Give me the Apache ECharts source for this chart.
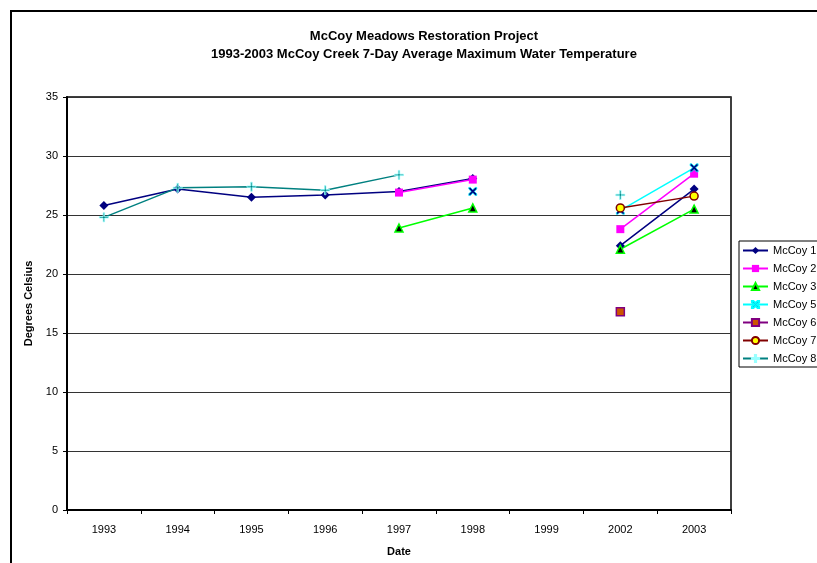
<!DOCTYPE html>
<html>
<head>
<meta charset="utf-8">
<script src="https://cdn.jsdelivr.net/npm/echarts@6/dist/echarts.min.js"></script>
<style>
  html, body { margin: 0; padding: 0; background: #fff; }
  #chart { width: 817px; height: 563px; }
</style>
</head>
<body>
<div id="chart"></div>
<script>
// years on the category axis
var years = ['1993', '1994', '1995', '1996', '1997', '1998', '1999', '2002', '2003'];
// 7-day average max water temperature, deg C (null = no reading)
var mccoy1 = [25.8, 27.2, 26.5, 26.7, 27.0, 28.1, null, 22.4, 27.2];
var mccoy2 = [null, null, null, null, 26.9, 28.0, null, 23.8, 28.5];
var mccoy3 = [null, null, null, null, 23.9, 25.6, null, 22.1, 25.5];
var mccoy5 = [null, null, null, null, null, 27.0, null, 25.4, 29.0];
var mccoy6 = [null, null, null, null, null, null, null, 16.8, null];
var mccoy7 = [null, null, null, null, null, null, null, 25.6, 26.6];
var mccoy8 = [24.8, 27.3, 27.4, 27.1, 28.4, null, null, 26.7, null];

var xPath = 'path://M0,0 L2,0 L5,3 L8,0 L10,0 L10,2 L7,5 L10,8 L10,10 L8,10 L5,7 L2,10 L0,10 L0,8 L3,5 L0,2 Z';
var plusPath = 'path://M4.2,0 L5.8,0 L5.8,4.2 L10,4.2 L10,5.8 L5.8,5.8 L5.8,10 L4.2,10 L4.2,5.8 L0,5.8 L0,4.2 L4.2,4.2 Z';

var font = 'Liberation Sans, Arial, sans-serif';

function line(name, data, lineColor, symbol, size, item) {
    return {
        name: name,
        type: 'line',
        data: data,
        symbol: symbol,
        symbolSize: size,
        showSymbol: true,
        showAllSymbol: true,
        connectNulls: false,
        animation: false,
        lineStyle: { color: lineColor, width: 1.5 },
        itemStyle: item
    };
}

var chart = echarts.init(document.getElementById('chart'));
var option = {
    backgroundColor: '#fff',
    textStyle: { fontFamily: font },
    title: {
        text: 'McCoy Meadows Restoration Project\n1993-2003 McCoy Creek 7-Day Average Maximum Water Temperature',
        left: 419,
        top: 22,
        textAlign: 'center',
        textStyle: { fontFamily: font, fontSize: 13, fontWeight: 'bold', color: '#000', lineHeight: 18 }
    },
    graphic: [{
        type: 'rect',
        shape: { x: 11, y: 11, width: 900, height: 700 },
        style: { fill: null, stroke: '#000', lineWidth: 2 },
        silent: true,
        z: -1
    }],
    legend: {
        orient: 'vertical',
        left: 739,
        top: 241,
        itemWidth: 25,
        itemHeight: 9,
        itemGap: 7,
        padding: [4, 20, 3, 3],
        borderColor: '#000',
        borderWidth: 1,
        backgroundColor: '#fff',
        textStyle: { fontFamily: font, fontSize: 11, color: '#000' },
        data: ['McCoy 1', 'McCoy 2', 'McCoy 3', 'McCoy 5', 'McCoy 6', 'McCoy 7', 'McCoy 8']
    },
    grid: {
        left: 67, top: 97, width: 664, height: 413,
        show: true, borderColor: '#000', borderWidth: 1.5,
        containLabel: false
    },
    xAxis: {
        type: 'category',
        data: years,
        boundaryGap: true,
        name: 'Date',
        nameLocation: 'middle',
        nameGap: 36,
        nameTextStyle: { fontFamily: font, fontSize: 11, fontWeight: 'bold', color: '#000' },
        axisLine: { lineStyle: { color: '#000', width: 2 } },
        axisTick: { show: true, length: 4, lineStyle: { color: '#000' } },
        axisLabel: { fontFamily: font, fontSize: 11, color: '#000', margin: 14 }
    },
    yAxis: {
        type: 'value',
        min: 0, max: 35, interval: 5,
        name: 'Degrees Celsius',
        nameLocation: 'middle',
        nameGap: 30,
        nameTextStyle: { fontFamily: font, fontSize: 11, fontWeight: 'bold', color: '#000' },
        axisLine: { show: true, lineStyle: { color: '#000', width: 2 } },
        axisTick: { show: true, length: 4, lineStyle: { color: '#000' } },
        axisLabel: { fontFamily: font, fontSize: 11, color: '#000', margin: 9 },
        splitLine: { show: true, lineStyle: { color: '#333', width: 1 } }
    },
    series: [
        line('McCoy 1', mccoy1, '#000080', 'diamond', 9, { color: '#000080' }),
        line('McCoy 2', mccoy2, '#FF00FF', 'rect', 8, { color: '#FF00FF' }),
        line('McCoy 3', mccoy3, '#00FF00', 'triangle', 8, { color: '#000000', borderColor: '#00FF00', borderWidth: 1.5 }),
        line('McCoy 5', mccoy5, '#00FFFF', xPath, 8, { color: '#000080', borderColor: '#00FFFF', borderWidth: 0.8 }),
        line('McCoy 6', mccoy6, '#800080', 'rect', 8, { color: '#CC5500', borderColor: '#800080', borderWidth: 1.5 }),
        line('McCoy 7', mccoy7, '#800000', 'circle', 8, { color: '#FFFF00', borderColor: '#800000', borderWidth: 1.5 }),
        line('McCoy 8', mccoy8, '#008080', plusPath, 9, { color: '#008080', borderColor: '#99FFFF', borderWidth: 0.8 })
    ]
};
option && chart.setOption(option);
</script>
</body>
</html>
